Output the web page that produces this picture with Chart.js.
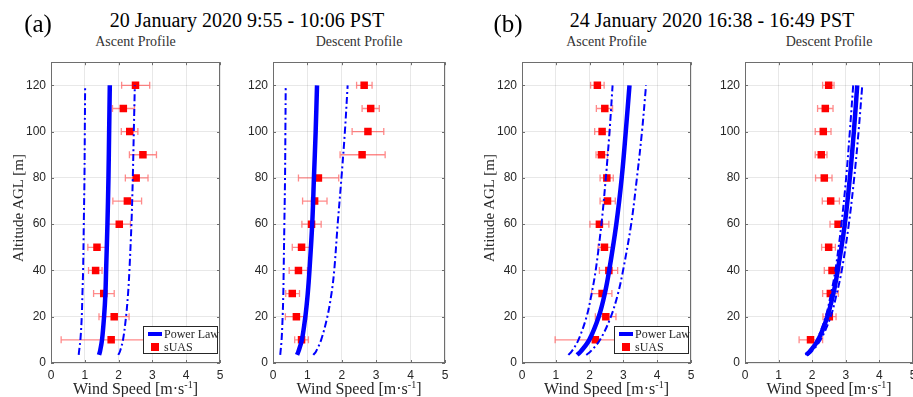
<!DOCTYPE html>
<html>
<head>
<meta charset="utf-8">
<script src="https://cdn.jsdelivr.net/npm/chart.js@4.4.0/dist/chart.umd.min.js"></script>
<style>
  html, body { margin: 0; padding: 0; background: #fff; overflow: hidden; }
  #wrap { position: relative; width: 913px; height: 397px; overflow: hidden; background: #fff; }
  canvas { position: absolute; }
  .txt { position: absolute; white-space: nowrap; line-height: 1; transform: translate(-50%, -50%);
         font-family: 'Liberation Serif', 'DejaVu Serif', serif; color: #262626; }
  .legend { position: absolute; background: #fff; border: 1px solid #262626; box-sizing: border-box;
            font-family: 'Liberation Serif', serif; font-size: 12px; color: #262626; white-space: nowrap; }
  .legend .row { position: absolute; left: 0; right: 0; height: 12px; line-height: 12px; }
</style>
</head>
<body>
<div id="wrap"></div>
<script>
// sUAS sample altitudes (m), top to bottom
const sampleHeights = [120, 110, 100, 90, 80, 70, 60, 50, 40, 30, 20, 10];
// altitudes where the power-law curves were read
const curveHeights = [3.5, 5, 10, 20, 30, 40, 60, 80, 100, 120];

// (a) 20 Jan, ascent
const aAscSpeed = [2.50, 2.14, 2.33, 2.72, 2.52, 2.26, 2.02, 1.36, 1.32, 1.56, 1.87, 1.78];
const aAscLow   = [2.09, 1.82, 2.08, 2.32, 2.20, 1.83, 1.68, 1.09, 1.11, 1.26, 1.42, 0.30];
const aAscHigh  = [2.92, 2.47, 2.57, 3.12, 2.87, 2.68, 2.35, 1.64, 1.51, 1.87, 2.31, 3.26];
const aAscPL    = [1.42, 1.45, 1.51, 1.57, 1.61, 1.63, 1.67, 1.70, 1.72, 1.74];
const aAscPLlo  = [0.82, 0.83, 0.87, 0.91, 0.93, 0.95, 0.97, 0.99, 1.00, 1.01];
const aAscPLhi  = [1.99, 2.04, 2.13, 2.22, 2.28, 2.32, 2.38, 2.42, 2.45, 2.48];

// (a) 20 Jan, descent
const aDesSpeed = [2.65, 2.84, 2.76, 2.59, 1.32, 1.21, 1.12, 0.83, 0.74, 0.56, 0.68, 0.83];
const aDesLow   = [2.43, 2.59, 2.30, 1.95, 0.74, 0.86, 0.84, 0.56, 0.47, 0.37, 0.36, 0.63];
const aDesHigh  = [2.88, 3.09, 3.22, 3.26, 1.91, 1.57, 1.40, 1.11, 1.00, 0.77, 0.98, 1.03];
const aDesPL    = [0.70, 0.74, 0.84, 0.94, 1.01, 1.06, 1.14, 1.19, 1.24, 1.28];
const aDesPLlo  = [0.21, 0.22, 0.25, 0.28, 0.30, 0.31, 0.33, 0.35, 0.36, 0.37];
const aDesPLhi  = [1.17, 1.25, 1.40, 1.58, 1.70, 1.78, 1.88, 1.99, 2.09, 2.17];

// (b) 24 Jan, ascent
const bAscSpeed = [2.23, 2.45, 2.37, 2.35, 2.51, 2.53, 2.29, 2.44, 2.57, 2.37, 2.48, 2.17];
const bAscLow   = [2.03, 2.20, 2.15, 2.19, 2.31, 2.31, 2.01, 2.25, 2.29, 2.06, 2.17, 0.98];
const bAscHigh  = [2.43, 2.68, 2.59, 2.53, 2.70, 2.76, 2.57, 2.65, 2.83, 2.66, 2.78, 3.36];
const bAscPL    = [1.63, 1.74, 1.99, 2.27, 2.45, 2.58, 2.79, 2.95, 3.07, 3.18];
const bAscPLlo  = [1.37, 1.47, 1.67, 1.91, 2.06, 2.18, 2.35, 2.48, 2.59, 2.68];
const bAscPLhi  = [1.90, 2.03, 2.31, 2.63, 2.84, 2.99, 3.23, 3.40, 3.55, 3.67];

// (b) 24 Jan, descent
const bDesSpeed = [2.49, 2.39, 2.33, 2.27, 2.36, 2.55, 2.77, 2.49, 2.59, 2.54, 2.51, 1.95];
const bDesLow   = [2.31, 2.16, 2.09, 2.09, 2.10, 2.30, 2.53, 2.28, 2.36, 2.31, 2.32, 1.61];
const bDesHigh  = [2.65, 2.62, 2.56, 2.44, 2.59, 2.81, 3.01, 2.69, 2.83, 2.78, 2.71, 2.31];
const bDesPL    = [1.82, 1.93, 2.18, 2.45, 2.63, 2.76, 2.97, 3.12, 3.24, 3.34];
const bDesPLlo  = [1.80, 1.91, 2.14, 2.40, 2.56, 2.69, 2.87, 3.01, 3.12, 3.22];
const bDesPLhi  = [1.87, 1.99, 2.25, 2.55, 2.73, 2.88, 3.09, 3.25, 3.38, 3.49];

const xTicks = [0, 1, 2, 3, 4, 5];
const yTicks = [0, 20, 40, 60, 80, 100, 120];

const panels = [
  { left: 51,  right: 220, title: 'Ascent Profile',  speed: aAscSpeed, low: aAscLow, high: aAscHigh, pl: aAscPL, plLo: aAscPLlo, plHi: aAscPLhi, legend: true,  ylabel: true  },
  { left: 273, right: 445, title: 'Descent Profile', speed: aDesSpeed, low: aDesLow, high: aDesHigh, pl: aDesPL, plLo: aDesPLlo, plHi: aDesPLhi, legend: false, ylabel: false },
  { left: 522, right: 691, title: 'Ascent Profile',  speed: bAscSpeed, low: bAscLow, high: bAscHigh, pl: bAscPL, plLo: bAscPLlo, plHi: bAscPLhi, legend: true,  ylabel: true  },
  { left: 745, right: 913, title: 'Descent Profile', speed: bDesSpeed, low: bDesLow, high: bDesHigh, pl: bDesPL, plLo: bDesPLlo, plHi: bDesPLhi, legend: false, ylabel: false }
];

const PLOT_TOP = 53, PLOT_BOTTOM = 363, CANVAS_TOP = 50, CANVAS_H = 347;
const Y_AXIS_W = 34, RIGHT_PAD = 10;
const wrap = document.getElementById('wrap');

function addText(str, x, y, size, extra) {
  const d = document.createElement('div');
  d.className = 'txt';
  d.textContent = str;
  d.style.left = x + 'px';
  d.style.top = y + 'px';
  d.style.fontSize = size + 'px';
  if (extra) Object.assign(d.style, extra);
  wrap.appendChild(d);
  return d;
}

// error bars + MATLAB style box with inward ticks
const errorBarPlugin = {
  id: 'errorBars',
  beforeDatasetDraw(chart, args) {
    const ds = chart.data.datasets[args.index];
    if (!ds.errLow) return;
    const xs = chart.scales.x, ys = chart.scales.y, ctx = chart.ctx;
    ctx.save();
    ctx.strokeStyle = 'rgba(255,60,60,0.6)';
    ctx.lineWidth = 1.3;
    ds.data.forEach((p, i) => {
      const y = ys.getPixelForValue(p.y);
      const x1 = xs.getPixelForValue(ds.errLow[i]);
      const x2 = xs.getPixelForValue(ds.errHigh[i]);
      ctx.beginPath();
      ctx.moveTo(x1, y); ctx.lineTo(x2, y);
      ctx.moveTo(x1, y - 3.5); ctx.lineTo(x1, y + 3.5);
      ctx.moveTo(x2, y - 3.5); ctx.lineTo(x2, y + 3.5);
      ctx.stroke();
    });
    ctx.restore();
  }
};

const boxPlugin = {
  id: 'matlabBox',
  afterDraw(chart) {
    const a = chart.chartArea, ctx = chart.ctx;
    const xs = chart.scales.x, ys = chart.scales.y;
    ctx.save();
    ctx.strokeStyle = '#6e6e6e';
    ctx.lineWidth = 1;
    ctx.strokeRect(Math.round(a.left) + 0.5, Math.round(a.top) + 0.5,
                   Math.round(a.right - a.left) - 1, Math.round(a.bottom - a.top) - 1);
    ctx.beginPath();
    xTicks.forEach(v => {
      const x = Math.round(xs.getPixelForValue(v)) + 0.5;
      ctx.moveTo(x, a.bottom); ctx.lineTo(x, a.bottom - 3);
      ctx.moveTo(x, a.top); ctx.lineTo(x, a.top + 3);
    });
    yTicks.forEach(v => {
      const y = Math.round(ys.getPixelForValue(v)) + 0.5;
      ctx.moveTo(a.left, y); ctx.lineTo(a.left + 3, y);
      ctx.moveTo(a.right, y); ctx.lineTo(a.right - 3, y);
    });
    ctx.stroke();
    ctx.restore();
  }
};

function curve(vals) {
  return curveHeights.map((h, i) => ({ x: vals[i], y: h }));
}

panels.forEach(p => {
  const cv = document.createElement('canvas');
  const cLeft = p.left - Y_AXIS_W;
  const cWidth = p.right - p.left + Y_AXIS_W + RIGHT_PAD;
  cv.width = cWidth; cv.height = CANVAS_H;
  cv.style.left = cLeft + 'px';
  cv.style.top = CANVAS_TOP + 'px';
  cv.style.width = cWidth + 'px';
  cv.style.height = CANVAS_H + 'px';
  wrap.appendChild(cv);

  const dashDot = [7, 3, 2, 3];
  new Chart(cv.getContext('2d'), {
    type: 'scatter',
    data: {
      datasets: [
        { data: curve(p.plLo), showLine: true, borderColor: '#0000ff', borderWidth: 2, borderDash: dashDot, pointRadius: 0, tension: 0.35 },
        { data: curve(p.plHi), showLine: true, borderColor: '#0000ff', borderWidth: 2, borderDash: dashDot, pointRadius: 0, tension: 0.35 },
        { data: curve(p.pl), showLine: true, borderColor: '#0000ff', borderWidth: 4.5, pointRadius: 0, tension: 0.35 },
        {
          data: sampleHeights.map((h, i) => ({ x: p.speed[i], y: h })),
          errLow: p.low, errHigh: p.high,
          pointStyle: 'rect', pointRadius: 5.3, backgroundColor: '#ff0000', borderColor: '#ff0000', borderWidth: 0
        }
      ]
    },
    options: {
      responsive: false,
      animation: false,
      devicePixelRatio: 1,
      layout: { padding: { top: PLOT_TOP - CANVAS_TOP, right: RIGHT_PAD, left: 0, bottom: 0 } },
      plugins: { legend: { display: false }, tooltip: { enabled: false } },
      scales: {
        x: {
          type: 'linear', min: 0, max: 5,
          afterBuildTicks: s => { s.ticks = xTicks.map(v => ({ value: v })); },
          afterFit: s => { s.height = CANVAS_TOP + CANVAS_H - PLOT_BOTTOM; },
          grid: { color: 'rgba(0,0,0,0.09)', drawTicks: false },
          border: { display: false },
          ticks: { padding: 5, color: '#262626', font: { family: 'Liberation Sans', size: 12 }, maxRotation: 0 }
        },
        y: {
          type: 'linear', min: 0, max: 130,
          afterBuildTicks: s => { s.ticks = yTicks.map(v => ({ value: v })); },
          afterFit: s => { s.width = Y_AXIS_W; },
          grid: { color: 'rgba(0,0,0,0.09)', drawTicks: false },
          border: { display: false },
          ticks: { padding: 5, color: '#262626', font: { family: 'Liberation Sans', size: 12 } }
        }
      }
    },
    plugins: [errorBarPlugin, boxPlugin]
  });

  const cx = (p.left + p.right) / 2;
  addText(p.title, cx, 42, 14, { color: '#333' });
  const xl = addText('', cx, 388, 16);
  xl.innerHTML = 'Wind Speed [m\u00b7s<sup style="font-size:10px;vertical-align:6px">-1</sup>]';
  if (p.ylabel) {
    addText('Altitude AGL [m]', p.left - 33, 208, 15, { transform: 'translate(-50%,-50%) rotate(-90deg)' });
  }
  if (p.legend) {
    const lg = document.createElement('div');
    lg.className = 'legend';
    lg.style.left = (p.left + 92) + 'px';
    lg.style.top = '326px';
    lg.style.width = '75px';
    lg.style.height = '28px';
    lg.innerHTML =
      '<div class="row" style="top:1px"><span style="position:absolute;left:4px;top:4px;width:14px;height:4px;background:#0000ff"></span>' +
      '<span style="position:absolute;left:20px;top:0">Power Law</span></div>' +
      '<div class="row" style="top:14px"><span style="position:absolute;left:7px;top:2px;width:8px;height:8px;background:#ff0000"></span>' +
      '<span style="position:absolute;left:20px;top:0">sUAS</span></div>';
    wrap.appendChild(lg);
  }
});

// figure titles
addText('(a)', 38, 23, 25, { color: '#000' });
addText('20 January 2020 9:55 - 10:06 PST', 247, 20, 20, { color: '#000' });
addText('(b)', 508, 23, 25, { color: '#000' });
addText('24 January 2020 16:38 - 16:49 PST', 712, 20, 20, { color: '#000' });
</script>
</body>
</html>
